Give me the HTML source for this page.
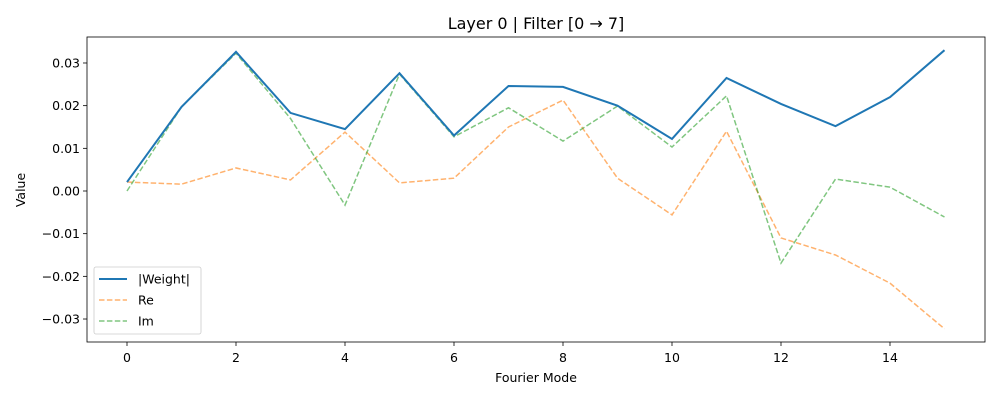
<!DOCTYPE html>
<html><head><meta charset="utf-8"><style>
body{margin:0;background:#fff;font-family:"Liberation Sans","DejaVu Sans",sans-serif}
svg text{font-family:"DejaVu Sans","Liberation Sans",sans-serif;fill:#000}
</style></head><body>
<svg id="c" width="1000" height="400"></svg>
<script>
const modes=[0,1,2,3,4,5,6,7,8,9,10,11,12,13,14,15];
const weightVals=[0.0021,0.0197,0.0326,0.0183,0.0145,0.0276,0.0130,0.0246,0.0244,0.0200,0.0122,0.0265,0.0204,0.0152,0.0220,0.0330];
const reVals=[0.0021,0.0016,0.0054,0.0026,0.0138,0.0019,0.0030,0.0150,0.0213,0.0030,-0.0056,0.0140,-0.0110,-0.0150,-0.0216,-0.0323];
const imVals=[0.0000,0.0197,0.0323,0.0170,-0.0033,0.0274,0.0127,0.0195,0.0117,0.0199,0.0103,0.0223,-0.0169,0.0028,0.0009,-0.0061];
const xTicks=[0,2,4,6,8,10,12,14];
const yTicks=[-0.03,-0.02,-0.01,0,0.01,0.02,0.03];
const yTickLabels=["−0.03","−0.02","−0.01","0.00","0.01","0.02","0.03"];
const NS="http://www.w3.org/2000/svg",svg=document.getElementById('c');
const L=87,R=985,T=37,B=342;
const x=v=>127+(v-0)*54.5;
const y=v=>191-v*4267;
function mk(t,a,p){const e=document.createElementNS(NS,t);for(const k in a)e.setAttribute(k,a[k]);(p||svg).appendChild(e);return e;}
let e=mk('rect',{x:L,y:T,width:R-L,height:B-T,fill:'none',stroke:'#000','stroke-width':0.8});


xTicks.forEach(v=>{mk('line',{x1:x(v),x2:x(v),y1:B,y2:B+4,stroke:'#000','stroke-width':0.8});
let t=mk('text',{x:x(v),y:B+20,'text-anchor':'middle','font-size':12.5});t.textContent=v;

});
yTicks.forEach((v,i)=>{mk('line',{x1:L-4,x2:L,y1:y(v),y2:y(v),stroke:'#000','stroke-width':0.8});
let t=mk('text',{x:L-7,y:y(v)+4.5,'text-anchor':'end','font-size':12.5});t.textContent=yTickLabels[i];

});
function line(vals,col,w,dash,name){const p=mk('polyline',{points:vals.map((v,i)=>x(modes[i])+','+y(v)).join(' '),fill:'none',stroke:col,'stroke-width':w,'stroke-dasharray':dash||'none',opacity:dash?0.6:1});

}
line(reVals,'#ff7f0e',1.5,'5.5,2.4','re-line');
line(imVals,'#2ca02c',1.5,'5.5,2.4','im-line');
line(weightVals,'#1f77b4',2,null,'weight-line');
let tt=mk('text',{x:536,y:29,'text-anchor':'middle','font-size':16});tt.textContent='Layer 0 | Filter [0 → 7]';


let xl=mk('text',{x:536,y:382,'text-anchor':'middle','font-size':12.5});xl.textContent='Fourier Mode';


let yl=mk('text',{x:0,y:0,'text-anchor':'middle','font-size':12.5,transform:'translate(25,190) rotate(-90)'});yl.textContent='Value';


const lg=mk('g',{});


mk('rect',{x:94,y:267,width:107,height:67,rx:2,fill:'#fff',stroke:'#ccc','stroke-width':0.8},lg);
[['|Weight|','#1f77b4',null,2],['Re','#ff7f0e','5.5,2.4',1.5],['Im','#2ca02c','5.5,2.4',1.5]].forEach((d,i)=>{
const yy=279+i*21;
mk('line',{x1:99,x2:127,y1:yy,y2:yy,stroke:d[1],'stroke-width':d[3],'stroke-dasharray':d[2]||'none',opacity:d[2]?0.6:1},lg);
const t=mk('text',{x:138,y:yy+4.5,'font-size':12.5},lg);t.textContent=d[0];

});
</script>
</body></html>
